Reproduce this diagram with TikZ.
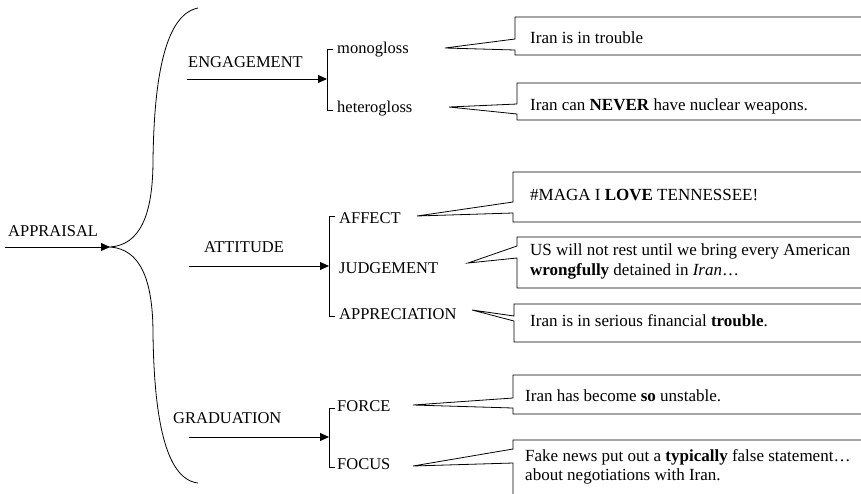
\documentclass[tikz,border=0pt]{standalone}
\usepackage{fontspec}
\setmainfont{Liberation Serif}
\usetikzlibrary{arrows.meta}
\begin{document}
\begin{tikzpicture}[x=1pt,y=-1pt,
  lbl/.style={anchor=base west,inner sep=0pt,font=\fontsize{16.5}{20}\selectfont},
  txt/.style={anchor=base west,inner sep=0pt,font=\fontsize{17}{20}\selectfont},
  conn/.style={line width=0.8pt},
  arr/.style={conn,-{Triangle[length=9pt,width=8pt]}},
  callout/.style={draw,line width=0.8pt,line join=miter}]
\useasboundingbox (0,0) rectangle (861,493);
\clip (0,0) rectangle (861,493);

% ---- root ----
\node[lbl] (appraisal) at (8,236) {APPRAISAL};
\coordinate (apS) at (5,247);
\coordinate (apT) at (110,247);
\draw[arr] (apS) -- (apT);
\coordinate (brTop) at (198,8);
\coordinate (brBot) at (198,483);
\draw[conn] (brTop) .. controls (162,15) and (154,90) .. (153,160)
  .. controls (153,215) and (140,245) .. (apT)
  .. controls (140,249) and (153,279) .. (153,334)
  .. controls (154,404) and (162,479) .. (brBot);

% ---- ENGAGEMENT ----
\node[lbl] (eng) at (188,67) {ENGAGEMENT};
\coordinate (engS) at (187,79);
\coordinate (engT) at (327,79);
\draw[arr] (engS) -- (engT);
\coordinate (b1t) at (327,49);
\coordinate (b1b) at (327,110);
\draw[conn] ([xshift=6pt]b1t) -- (b1t) -- (b1b) -- ([xshift=6pt]b1b);
\node[lbl] (mono) at (337,53) {monogloss};
\node[lbl] (hetero) at (337,112) {heterogloss};

% ---- ATTITUDE ----
\node[lbl] (att) at (204,252) {ATTITUDE};
\coordinate (attS) at (189,266);
\coordinate (attT) at (329,266);
\draw[arr] (attS) -- (attT);
\coordinate (b2t) at (329,216);
\coordinate (b2b) at (329,316);
\draw[conn] ([xshift=6pt]b2t) -- (b2t) -- (b2b) -- ([xshift=6pt]b2b);
\node[lbl] (affect) at (339,223) {AFFECT};
\node[lbl] (judge) at (339,273) {JUDGEMENT};
\node[lbl] (apprec) at (339,319) {APPRECIATION};

% ---- GRADUATION ----
\node[lbl] (grad) at (173,423) {GRADUATION};
\coordinate (gradS) at (189,437);
\coordinate (gradT) at (329,437);
\draw[arr] (gradS) -- (gradT);
\coordinate (b3t) at (329,408);
\coordinate (b3b) at (329,467);
\draw[conn] ([xshift=6pt]b3t) -- (b3t) -- (b3b) -- ([xshift=6pt]b3b);
\node[lbl] (force) at (337,411) {FORCE};
\node[lbl] (focus) at (337,469) {FOCUS};

% ---- callouts ----
\coordinate (t1) at (445,48);
\draw[callout] (870,17) -- (515,17) -- (515,39) -- (t1) -- (515,50) -- (515,55) -- (870,55);
\node[txt] (c1) at (530,43) {Iran is in trouble};

\coordinate (t2) at (449,107);
\draw[callout] (870,83) -- (517,83) -- (517,104) -- (t2) -- (517,114) -- (517,120) -- (870,120);
\node[txt] (c2) at (530,110) {Iran can \textbf{NEVER} have nuclear weapons.};

\coordinate (t3) at (417,216);
\draw[callout] (870,172) -- (513,172) -- (513,202) -- (t3) -- (513,213) -- (513,222) -- (870,222);
\node[txt] (c3) at (530,200) {\#MAGA I \textbf{LOVE} TENNESSEE!};

\coordinate (t4) at (468,263);
\draw[callout] (870,237) -- (517,237) -- (517,246) -- (t4) -- (517,258) -- (517,288) -- (870,288);
\node[txt] (c4a) at (530,255) {US will not rest until we bring every American};
\node[txt] (c4b) at (530,275) {\textbf{wrongfully} detained in \textit{Iran}\dots};

\coordinate (t5) at (472,310);
\draw[callout] (870,304) -- (514,304) -- (514,316) -- (t5) -- (514,321) -- (514,342) -- (870,342);
\node[txt] (c5) at (530,326) {Iran is in serious financial \textbf{trouble}.};

\coordinate (t6) at (413,405);
\draw[callout] (870,375) -- (513,375) -- (513,398) -- (t6) -- (513,408) -- (513,414) -- (870,414);
\node[txt] (c6) at (525,401) {Iran has become \textbf{so} unstable.};

\coordinate (t7) at (413,466);
\draw[callout] (870,440) -- (513,440) -- (513,449) -- (t7) -- (513,463) -- (513,500);
\node[txt] (c7a) at (525,461) {Fake news put out a \textbf{typically} false statement\dots};
\node[txt] (c7b) at (525,480) {about negotiations with Iran.};
\end{tikzpicture}
\end{document}
